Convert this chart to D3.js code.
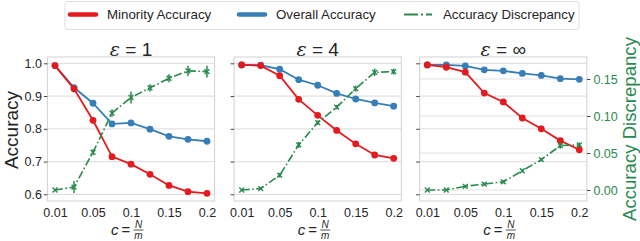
<!DOCTYPE html>
<html>
<head>
<meta charset="utf-8">
<script src="https://cdn.jsdelivr.net/npm/d3@7"></script>
<style>
  html, body { margin: 0; padding: 0; background: #fff; }
  svg { display: block; font-family: "Liberation Sans", Arial, sans-serif; }
</style>
</head>
<body>
<svg id="chart" width="640" height="241"></svg>
<script>
// ---------------- data ----------------
const categories = ["0.01", "0.025", "0.05", "0.075", "0.1", "0.125", "0.15", "0.175", "0.2"];
const xTickLabels = ["0.01", "0.05", "0.1", "0.15", "0.2"];
const accTicks = [0.6, 0.7, 0.8, 0.9, 1.0];
const discTicks = [0.00, 0.05, 0.10, 0.15];
const panelTitles = ["1", "4", "\u221E"];
const seriesNames = ["Minority Accuracy", "Overall Accuracy", "Accuracy Discrepancy"];

const minority1   = [0.993, 0.922, 0.826, 0.715, 0.692, 0.661, 0.627, 0.608, 0.603];
const overall1    = [0.993, 0.926, 0.878, 0.815, 0.818, 0.799, 0.777, 0.768, 0.762];
const disc1       = [0.000, 0.004, 0.051, 0.104, 0.125, 0.138, 0.151, 0.161, 0.160];
const minorityErr1 = [0.003, 0.004, 0.003, 0.004, 0.003, 0.003, 0.004, 0.003, 0.003];
const overallErr1  = [0.003, 0.003, 0.003, 0.004, 0.004, 0.003, 0.004, 0.003, 0.003];
const discErr1     = [0.0015, 0.008, 0.004, 0.005, 0.008, 0.005, 0.0055, 0.007, 0.008];

const minority4   = [0.995, 0.993, 0.962, 0.890, 0.841, 0.795, 0.754, 0.720, 0.710];
const overall4    = [0.995, 0.994, 0.982, 0.950, 0.933, 0.908, 0.891, 0.879, 0.869];
const disc4       = [0.000, 0.002, 0.020, 0.061, 0.091, 0.112, 0.137, 0.159, 0.160];
const minorityErr4 = [0.003, 0.003, 0.003, 0.004, 0.004, 0.003, 0.003, 0.003, 0.003];
const overallErr4  = [0.002, 0.002, 0.003, 0.003, 0.003, 0.003, 0.003, 0.003, 0.003];
const discErr4     = [0.001, 0.002, 0.003, 0.004, 0.003, 0.003, 0.004, 0.005, 0.004];

const minorityInf = [0.995, 0.988, 0.973, 0.909, 0.882, 0.833, 0.800, 0.764, 0.736];
const overallInf  = [0.995, 0.995, 0.992, 0.980, 0.977, 0.969, 0.963, 0.953, 0.951];
const discInf     = [0.000, 0.000, 0.005, 0.008, 0.011, 0.026, 0.041, 0.060, 0.061];
const minorityErrInf = [0.003, 0.003, 0.004, 0.004, 0.006, 0.004, 0.009, 0.005, 0.004];
const overallErrInf  = [0.002, 0.002, 0.002, 0.002, 0.002, 0.002, 0.003, 0.002, 0.002];
const discErrInf     = [0.001, 0.001, 0.002, 0.002, 0.002, 0.002, 0.002, 0.004, 0.003];

// ---------------- styling / layout ----------------
const RED = "#e41a1c", BLUE = "#377eb8", GREEN = "#2a8a4e";
const TXT = "#262626";
const GRID = "#e2e2e2", EDGE = "#d2d2d2";

const panels = [
  { x0: 47.4,  title: panelTitles[0], m: minority1,   o: overall1,   d: disc1,   me: minorityErr1,   oe: overallErr1,   de: discErr1 },
  { x0: 234.1, title: panelTitles[1], m: minority4,   o: overall4,   d: disc4,   me: minorityErr4,   oe: overallErr4,   de: discErr4 },
  { x0: 419.7, title: panelTitles[2], m: minorityInf, o: overallInf, d: discInf, me: minorityErrInf, oe: overallErrInf, de: discErrInf }
];
const PW = 167.2, TOP = 57, BOTTOM = 201;

const svg = d3.select("#chart");

const yAcc = d3.scaleLinear().domain([0.6, 1.0]).range([194.3, 63.3]);
const yDisc = d3.scaleLinear().domain([0, 0.15]).range([190, 79]);

panels.forEach((p, pi) => {
  const x = d3.scalePoint().domain(categories).range([p.x0 + 7.6, p.x0 + PW - 7.6]);
  const g = svg.append("g");

  // grid (accuracy)
  g.selectAll(".ga").data(accTicks).join("line")
    .attr("x1", p.x0).attr("x2", p.x0 + PW)
    .attr("y1", d => yAcc(d)).attr("y2", d => yAcc(d))
    .attr("stroke", GRID).attr("stroke-width", 1.2);
  // grid (discrepancy) only on last panel
  if (pi === 2) {
    g.selectAll(".gd").data(discTicks).join("line")
      .attr("x1", p.x0).attr("x2", p.x0 + PW)
      .attr("y1", d => yDisc(d)).attr("y2", d => yDisc(d))
      .attr("stroke", GRID).attr("stroke-width", 1.2);
  }
  // frame
  g.append("rect").attr("x", p.x0).attr("y", TOP).attr("width", PW).attr("height", BOTTOM - TOP)
    .attr("fill", "none").attr("stroke", EDGE).attr("stroke-width", 1);

  // left axis
  const la = d3.axisLeft(yAcc).tickValues(accTicks).tickSize(3.5).tickPadding(2)
    .tickFormat(pi === 0 ? d3.format(".1f") : () => "");
  const lag = g.append("g").attr("transform", `translate(${p.x0},0)`).call(la);
  lag.select(".domain").remove();
  lag.selectAll(".tick line").attr("stroke", "#444").attr("stroke-width", 1);
  lag.selectAll(".tick text").attr("fill", TXT).style("font-size", "12.5px").style("font-family", "Liberation Sans, Arial, sans-serif");

  // bottom axis
  const ba = d3.axisBottom(x).tickValues(xTickLabels).tickSize(0).tickPadding(7);
  const bag = g.append("g").attr("transform", `translate(0,${BOTTOM})`).call(ba);
  bag.select(".domain").remove();
  bag.selectAll(".tick text").attr("fill", TXT).style("font-size", "12.5px").style("font-family", "Liberation Sans, Arial, sans-serif");

  // right axis on last panel
  if (pi === 2) {
    const ra = d3.axisRight(yDisc).tickValues(discTicks).tickSize(3.5).tickPadding(3).tickFormat(d3.format(".2f"));
    const rag = g.append("g").attr("transform", `translate(${p.x0 + PW},0)`).call(ra);
    rag.select(".domain").remove();
    rag.selectAll(".tick line").attr("stroke", "#444").attr("stroke-width", 1);
    rag.selectAll(".tick text").attr("fill", GREEN).style("font-size", "12.5px").style("font-family", "Liberation Sans, Arial, sans-serif");
  }

  // title
  const cx = p.x0 + PW / 2;
  const t = g.append("text").attr("x", cx).attr("y", 56).attr("text-anchor", "middle")
    .attr("fill", TXT).style("font-size", "19px");
  t.append("tspan").style("font-style", "italic").style("font-family", "DejaVu Serif, serif").text("\u03B5");
  t.append("tspan").text(" = " + p.title);

  // x label c = N/m
  const xl = g.append("g").attr("fill", TXT);
  xl.append("text").attr("x", cx - 20).attr("y", 235).style("font-size", "15px").style("font-style", "italic").text("c");
  xl.append("text").attr("x", cx - 9.5).attr("y", 235).style("font-size", "15px").text("=");
  xl.append("text").attr("x", cx + 7.5).attr("y", 228.3).attr("text-anchor", "middle").style("font-size", "10px").style("font-style", "italic").text("N");
  xl.append("line").attr("x1", cx + 2.5).attr("x2", cx + 12.5).attr("y1", 230).attr("y2", 230).attr("stroke", TXT).attr("stroke-width", 0.8);
  xl.append("text").attr("x", cx + 7.5).attr("y", 238.8).attr("text-anchor", "middle").style("font-size", "10px").style("font-style", "italic").text("m");

  // series draw helper
  const idx = d3.range(categories.length);
  function drawCircleSeries(vals, errs, color) {
    const line = d3.line().x(i => x(categories[i])).y(i => yAcc(vals[i]));
    g.append("g").selectAll("line").data(idx).join("line")
      .attr("x1", i => x(categories[i])).attr("x2", i => x(categories[i]))
      .attr("y1", i => yAcc(vals[i] - errs[i])).attr("y2", i => yAcc(vals[i] + errs[i]))
      .attr("stroke", color).attr("stroke-width", 1.5);
    g.append("path").datum(idx).attr("d", line).attr("fill", "none")
      .attr("stroke", color).attr("stroke-width", 1.8);
    g.append("g").selectAll("circle").data(idx).join("circle")
      .attr("cx", i => x(categories[i])).attr("cy", i => yAcc(vals[i])).attr("r", 3.4)
      .attr("fill", color);
  }
  drawCircleSeries(p.o, p.oe, BLUE);
  drawCircleSeries(p.m, p.me, RED);

  // discrepancy (twin axis)
  const dl = d3.line().x(i => x(categories[i])).y(i => yDisc(p.d[i]));
  g.append("g").selectAll("line").data(idx).join("line")
    .attr("x1", i => x(categories[i])).attr("x2", i => x(categories[i]))
    .attr("y1", i => yDisc(p.d[i] - p.de[i])).attr("y2", i => yDisc(p.d[i] + p.de[i]))
    .attr("stroke", GREEN).attr("stroke-width", 1.5);
  g.append("path").datum(idx).attr("d", dl).attr("fill", "none")
    .attr("stroke", GREEN).attr("stroke-width", 1.6).attr("stroke-dasharray", "8,2.5,1.6,2.5");
  const xs = 2.4;
  g.append("g").selectAll("path").data(idx).join("path")
    .attr("d", i => {
      const px = x(categories[i]), py = yDisc(p.d[i]);
      return `M${px - xs},${py - xs}L${px + xs},${py + xs}M${px - xs},${py + xs}L${px + xs},${py - xs}`;
    })
    .attr("stroke", GREEN).attr("stroke-width", 1.4).attr("fill", "none");
});

// y labels
svg.append("text").attr("transform", "translate(17.5,130) rotate(-90)").attr("text-anchor", "middle")
  .attr("fill", TXT).style("font-size", "19px").text("Accuracy");
svg.append("text").attr("transform", "translate(636,129) rotate(-90)").attr("text-anchor", "middle")
  .attr("fill", GREEN).style("font-size", "18.6px").text(seriesNames[2]);

// legend
const lg = svg.append("g");
lg.append("rect").attr("x", 65).attr("y", 1.5).attr("width", 514).attr("height", 28).attr("rx", 3)
  .attr("fill", "#fff").attr("stroke", "#dedede").attr("stroke-width", 1);
const legendItems = [
  { name: seriesNames[0], color: RED, x: 68, dash: null },
  { name: seriesNames[1], color: BLUE, x: 237, dash: null },
  { name: seriesNames[2], color: GREEN, x: 404, dash: "14,3,2,3" }
];
legendItems.forEach(it => {
  const ln = lg.append("line").attr("x1", it.x + 2).attr("x2", it.x + 28).attr("y1", 14.5).attr("y2", 14.5)
    .attr("stroke", it.color).attr("stroke-width", it.dash ? 2 : 4.5).attr("stroke-linecap", it.dash ? "butt" : "round");
  if (it.dash) ln.attr("x1", it.x).attr("stroke-dasharray", it.dash);
  lg.append("text").attr("x", it.x + 39).attr("y", 19.3).attr("fill", TXT)
    .style("font-size", "13.3px").text(it.name);
});
</script>
</body>
</html>
